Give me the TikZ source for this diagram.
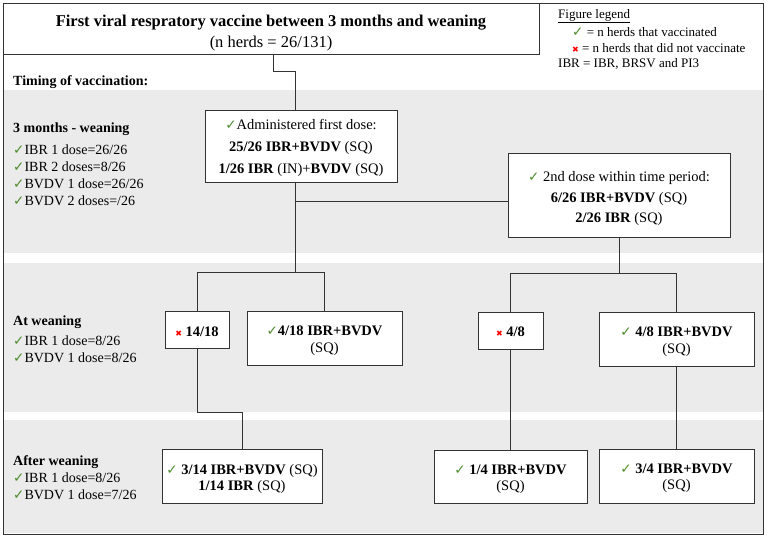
\documentclass[tikz,border=0pt]{standalone}
\usepackage{fontspec}
\setmainfont{Liberation Serif}
\newfontfamily\symfont{DejaVu Sans}
\definecolor{bandgray}{HTML}{EBEBEB}
\definecolor{ckgreen}{HTML}{4E8B2E}
\definecolor{linecol}{HTML}{333333}
\newcommand{\ck}{{\symfont\color{ckgreen}\fontsize{13.5}{12}\selectfont ✓}}
\newcommand{\xx}{{\symfont\color{red}\fontsize{8}{8}\selectfont ✖}}
\begin{document}
\begin{tikzpicture}[x=1pt,y=-1pt,
  box/.style={draw=linecol,line width=1pt,fill=white,inner sep=0pt},
  btxt/.style={inner sep=0pt,align=center},
  conn/.style={draw=linecol,line width=1pt},
  txt/.style={inner sep=0pt,anchor=west,align=left},
  f14/.style={font=\fontsize{14}{17}\selectfont}]
\useasboundingbox (0,0) rectangle (767,538);
% bands
\fill[bandgray] (4,90) rectangle (763,253);
\fill[bandgray] (4,263) rectangle (763,412);
\fill[bandgray] (4,420) rectangle (763,533);
\draw[conn] (3.5,3.5) rectangle (763.5,534);
% title
\node[box,minimum width=536pt,minimum height=51pt] (title) at (271,29) {};
\node[btxt,font=\fontsize{16.5}{21}\selectfont] (titletext) at (271,33.5)
  {\textbf{First viral respratory vaccine between 3 months and weaning}\\(n herds = 26/131)};
% legend
\node[txt,font=\fontsize{13}{15}\selectfont] (lg1) at (558,16) {\underline{Figure legend}};
\node[txt,font=\fontsize{13}{15}\selectfont] (lg2) at (572,32) {\ck\ = n herds that vaccinated};
\node[txt,font=\fontsize{13}{15}\selectfont] (lg3) at (572,48) {\xx\ = n herds that did not vaccinate};
\node[txt,font=\fontsize{13}{15}\selectfont] (lg4) at (558,64) {IBR = IBR, BRSV and PI3};
% left labels
\node[txt,f14] (tv) at (13,82) {\textbf{Timing of vaccination:}};
\node[txt,f14] (h1) at (13,129) {\textbf{3 months - weaning}};
\node[txt,f14,anchor=north west] (l1) at (13,145) {\ck IBR 1 dose=26/26\\ \ck IBR 2 doses=8/26\\ \ck BVDV 1 dose=26/26\\ \ck BVDV 2 doses=/26};
\node[txt,f14] (h2) at (13,322) {\textbf{At weaning}};
\node[txt,f14,anchor=north west] (l2) at (13,336) {\ck IBR 1 dose=8/26\\ \ck BVDV 1 dose=8/26};
\node[txt,f14] (h3) at (13,462) {\textbf{After weaning}};
\node[txt,f14,anchor=north west] (l3) at (13,473) {\ck IBR 1 dose=8/26\\ \ck BVDV 1 dose=7/26};
% boxes
\node[box,minimum width=192pt,minimum height=72pt] (A) at (301,146) {};
\node[btxt,font=\fontsize{14.5}{22}\selectfont] (At) at ([yshift=-2pt]A.center)
  {\ck Administered first dose:\\ \textbf{25/26 IBR+BVDV} (SQ)\\ \textbf{1/26 IBR} (IN)+\textbf{BVDV} (SQ)};
\node[box,minimum width=222pt,minimum height=84pt] (B) at (619,195) {};
\node[btxt,font=\fontsize{14.5}{20.5}\selectfont] (Bt) at ([yshift=-4pt]B.center)
  {\ck\ 2nd dose within time period:\\ \textbf{6/26 IBR+BVDV} (SQ)\\ \textbf{2/26 IBR} (SQ)};
\node[box,minimum width=64pt,minimum height=37pt] (C) at (197,329.5) {};
\node[btxt,font=\fontsize{14.5}{17}\selectfont] (Ct) at ([yshift=-2pt]C.center) {\xx\ \textbf{14/18}};
\node[box,minimum width=155pt,minimum height=54pt] (D) at (324.5,338) {};
\node[btxt,font=\fontsize{14.5}{17}\selectfont] (Dt) at ([yshift=-3pt]D.center) {\ck\textbf{4/18 IBR+BVDV}\\(SQ)};
\node[box,minimum width=65pt,minimum height=37pt] (F) at (510.5,330.5) {};
\node[btxt,font=\fontsize{14.5}{17}\selectfont] (Ft) at ([yshift=-1pt]F.center) {\xx\ \textbf{4/8}};
\node[box,minimum width=155pt,minimum height=54pt] (G) at (676.5,339) {};
\node[btxt,font=\fontsize{14.5}{17}\selectfont] (Gt) at ([yshift=-3pt]G.center) {\ck\ \textbf{4/8 IBR+BVDV}\\(SQ)};
\node[box,minimum width=160pt,minimum height=54pt] (E) at (242,476) {};
\node[btxt,font=\fontsize{14.5}{16}\selectfont] (Et) at ([yshift=-3.5pt]E.center) {\ck\ \textbf{3/14 IBR+BVDV} (SQ)\\ \textbf{1/14 IBR} (SQ)};
\node[box,minimum width=153pt,minimum height=53pt] (H) at (510.5,476.5) {};
\node[btxt,font=\fontsize{14.5}{16}\selectfont] (Ht) at ([yshift=-3pt]H.center) {\ck\ \textbf{1/4 IBR+BVDV}\\(SQ)};
\node[box,minimum width=155pt,minimum height=54pt] (I) at (676.5,476) {};
\node[btxt,font=\fontsize{14.5}{16}\selectfont] (It) at ([yshift=-2pt]I.center) {\ck\ \textbf{3/4 IBR+BVDV}\\(SQ)};
% junction coordinates
\coordinate (t) at (273,71);
\coordinate (a) at (295,71);
\coordinate (b) at (295,201);
\coordinate (s1) at (295,272);
\coordinate (c) at (197,272);
\coordinate (d) at (324.5,272);
\coordinate (ce1) at (197,412);
\coordinate (ce2) at (242,412);
\coordinate (s2) at (619,273);
\coordinate (f) at (510.5,273);
\coordinate (g) at (676.5,273);
% connectors
\draw[conn] (title.south -| t) -- (t) -- (a) -- (A.north -| a);
\draw[conn] (A.south -| a) -- (s1);
\draw[conn] (b) -- (b -| B.west);
\draw[conn] (c) -- (d);
\draw[conn] (c) -- (C.north);
\draw[conn] (d) -- (D.north);
\draw[conn] (C.south) -- (ce1) -- (ce2) -- (E.north);
\draw[conn] (B.south) -- (s2);
\draw[conn] (f) -- (g);
\draw[conn] (f) -- (F.north);
\draw[conn] (g) -- (G.north);
\draw[conn] (F.south) -- (H.north);
\draw[conn] (G.south) -- (I.north);
\end{tikzpicture}
\end{document}
